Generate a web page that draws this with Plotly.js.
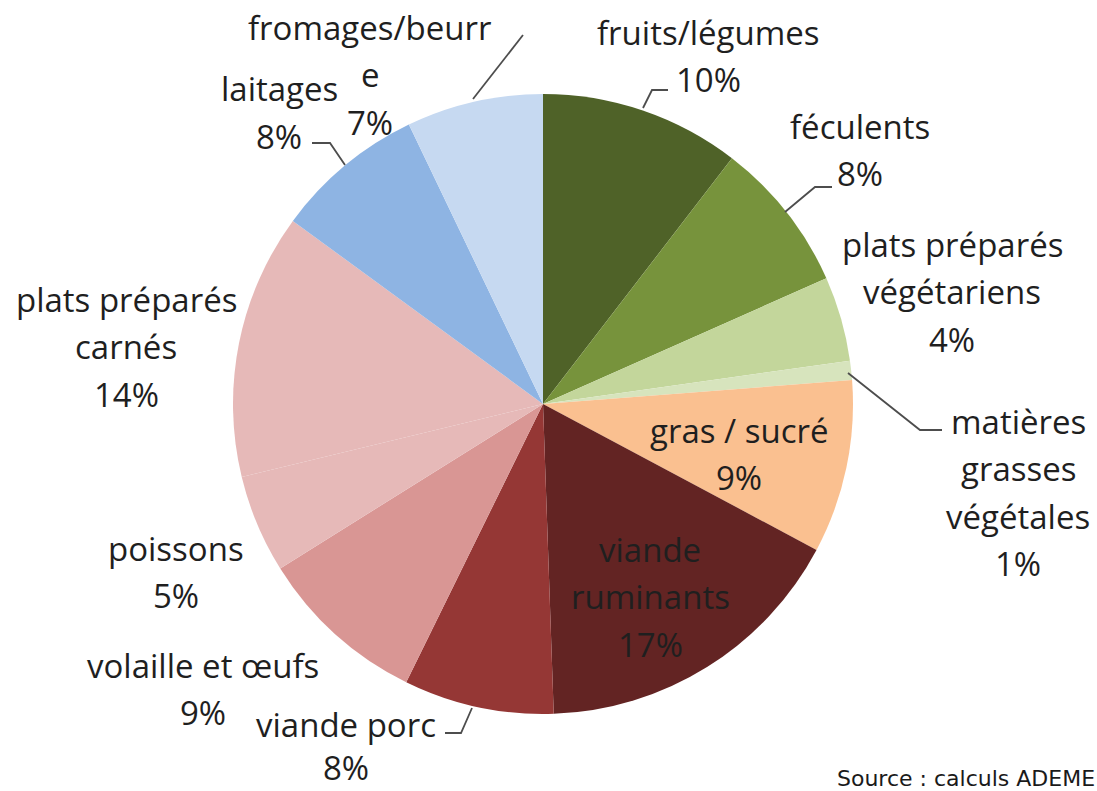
<!DOCTYPE html>
<html>
<head>
<meta charset="utf-8">
<script src="https://cdn.plot.ly/plotly-3.0.1.min.js"></script>
<style>
  html, body { margin: 0; padding: 0; background: #ffffff; }
  #chart { width: 1097px; height: 791px; }
</style>
</head>
<body>
<div id="chart"></div>
<script>
// categories, clockwise from 12 o'clock
var categories = ['fruits/légumes', 'féculents', 'plats préparés végétariens',
    'matières grasses végétales', 'gras / sucré', 'viande ruminants', 'viande porc',
    'volaille et œufs', 'poissons', 'plats préparés carnés', 'laitages', 'fromages/beurre'];

// shares
var values = [10.4, 7.9, 4.4, 1.0, 9.0, 16.6, 7.8, 8.8, 5.1, 13.8, 7.8, 7.1];

// label text as wrapped in the picture
var labelLines = ['fruits/légumes', 'féculents', 'plats préparés<br>végétariens',
    'matières<br>grasses<br>végétales', 'gras / sucré', 'viande<br>ruminants', 'viande porc',
    'volaille et œufs', 'poissons', 'plats préparés<br>carnés', 'laitages', 'fromages/beurr<br>e'];

var colors = ['#4f6228', '#77933c', '#c3d69b', '#d7e4bd', '#fac090', '#632423',
    '#953735', '#d99694', '#e6b9b8', '#e6b9b8', '#8eb4e3', '#c6d9f1'];

// layout only: pixel centre of first label line for each slice
var labelPos = [[708, 32], [860, 126], [952, 244], [1018, 421], [739, 430], [650, 549],
    [346, 721], [203, 665], [176, 548], [126, 299], [279, 89], [370, 27]];

var W = 1097, H = 791;
var cx = 543, cy = 404, R = 310;
var step = 47.5;
var labelFont = { family: 'Open Sans', size: 33, color: '#1f1f1f' };

function px(x) { return x / W; }
function py(y) { return 1 - y / H; }

var total = values.reduce(function (a, b) { return a + b; }, 0);

var annotations = [];
for (var i = 0; i < categories.length; i++) {
    var lines = labelLines[i].split('<br>');
    lines.push(Math.round(values[i] / total * 100) + '%');
    if (i === 6) {
        // porc label touches the bottom edge: one block, anchored at its top
        annotations.push({
            text: lines.join('<br>'),
            xref: 'paper', yref: 'paper',
            x: px(labelPos[i][0]), y: py(labelPos[i][1] - 21),
            xanchor: 'center', yanchor: 'top',
            showarrow: false, font: labelFont
        });
        continue;
    }
    for (var j = 0; j < lines.length; j++) {
        annotations.push({
            text: lines[j],
            xref: 'paper', yref: 'paper',
            x: px(labelPos[i][0]), y: py(labelPos[i][1] + j * step),
            xanchor: 'center', yanchor: 'middle',
            showarrow: false, font: labelFont
        });
    }
}

annotations.push({
    text: 'Source : calculs ADEME',
    xref: 'paper', yref: 'paper',
    x: px(835), y: py(778),
    xanchor: 'left', yanchor: 'middle',
    showarrow: false,
    font: { family: 'DejaVu Sans', size: 22, color: '#1a1a1a' }
});

// leader lines
var leaders = [
    [[668, 90], [652, 90], [643, 108]],
    [[832, 187], [815, 187], [785, 212]],
    [[848, 373], [920, 430], [942, 430]],
    [[445, 733], [461, 733], [472, 708]],
    [[312, 143], [330, 143], [345, 165]],
    [[523, 35], [473, 99]]
];

var shapes = leaders.map(function (pts) {
    var d = pts.map(function (p, k) {
        return (k === 0 ? 'M' : 'L') + px(p[0]) + ',' + py(p[1]);
    }).join(' ');
    return {
        type: 'path', xref: 'paper', yref: 'paper', path: d,
        line: { color: '#4d4d4d', width: 1.8 }
    };
});

var trace = {
    type: 'pie',
    labels: categories,
    values: values,
    sort: false,
    direction: 'clockwise',
    rotation: 0,
    textinfo: 'none',
    hoverinfo: 'label+percent',
    marker: { colors: colors, line: { width: 0 } },
    domain: { x: [px(cx - R), px(cx + R)], y: [py(cy + R), py(cy - R)] },
    showlegend: false
};

var layout = {
    width: W, height: H,
    margin: { l: 0, r: 0, t: 0, b: 0 },
    paper_bgcolor: '#ffffff',
    showlegend: false,
    annotations: annotations,
    shapes: shapes
};

Plotly.newPlot('chart', [trace], layout, { displayModeBar: false, staticPlot: true });
</script>
</body>
</html>
